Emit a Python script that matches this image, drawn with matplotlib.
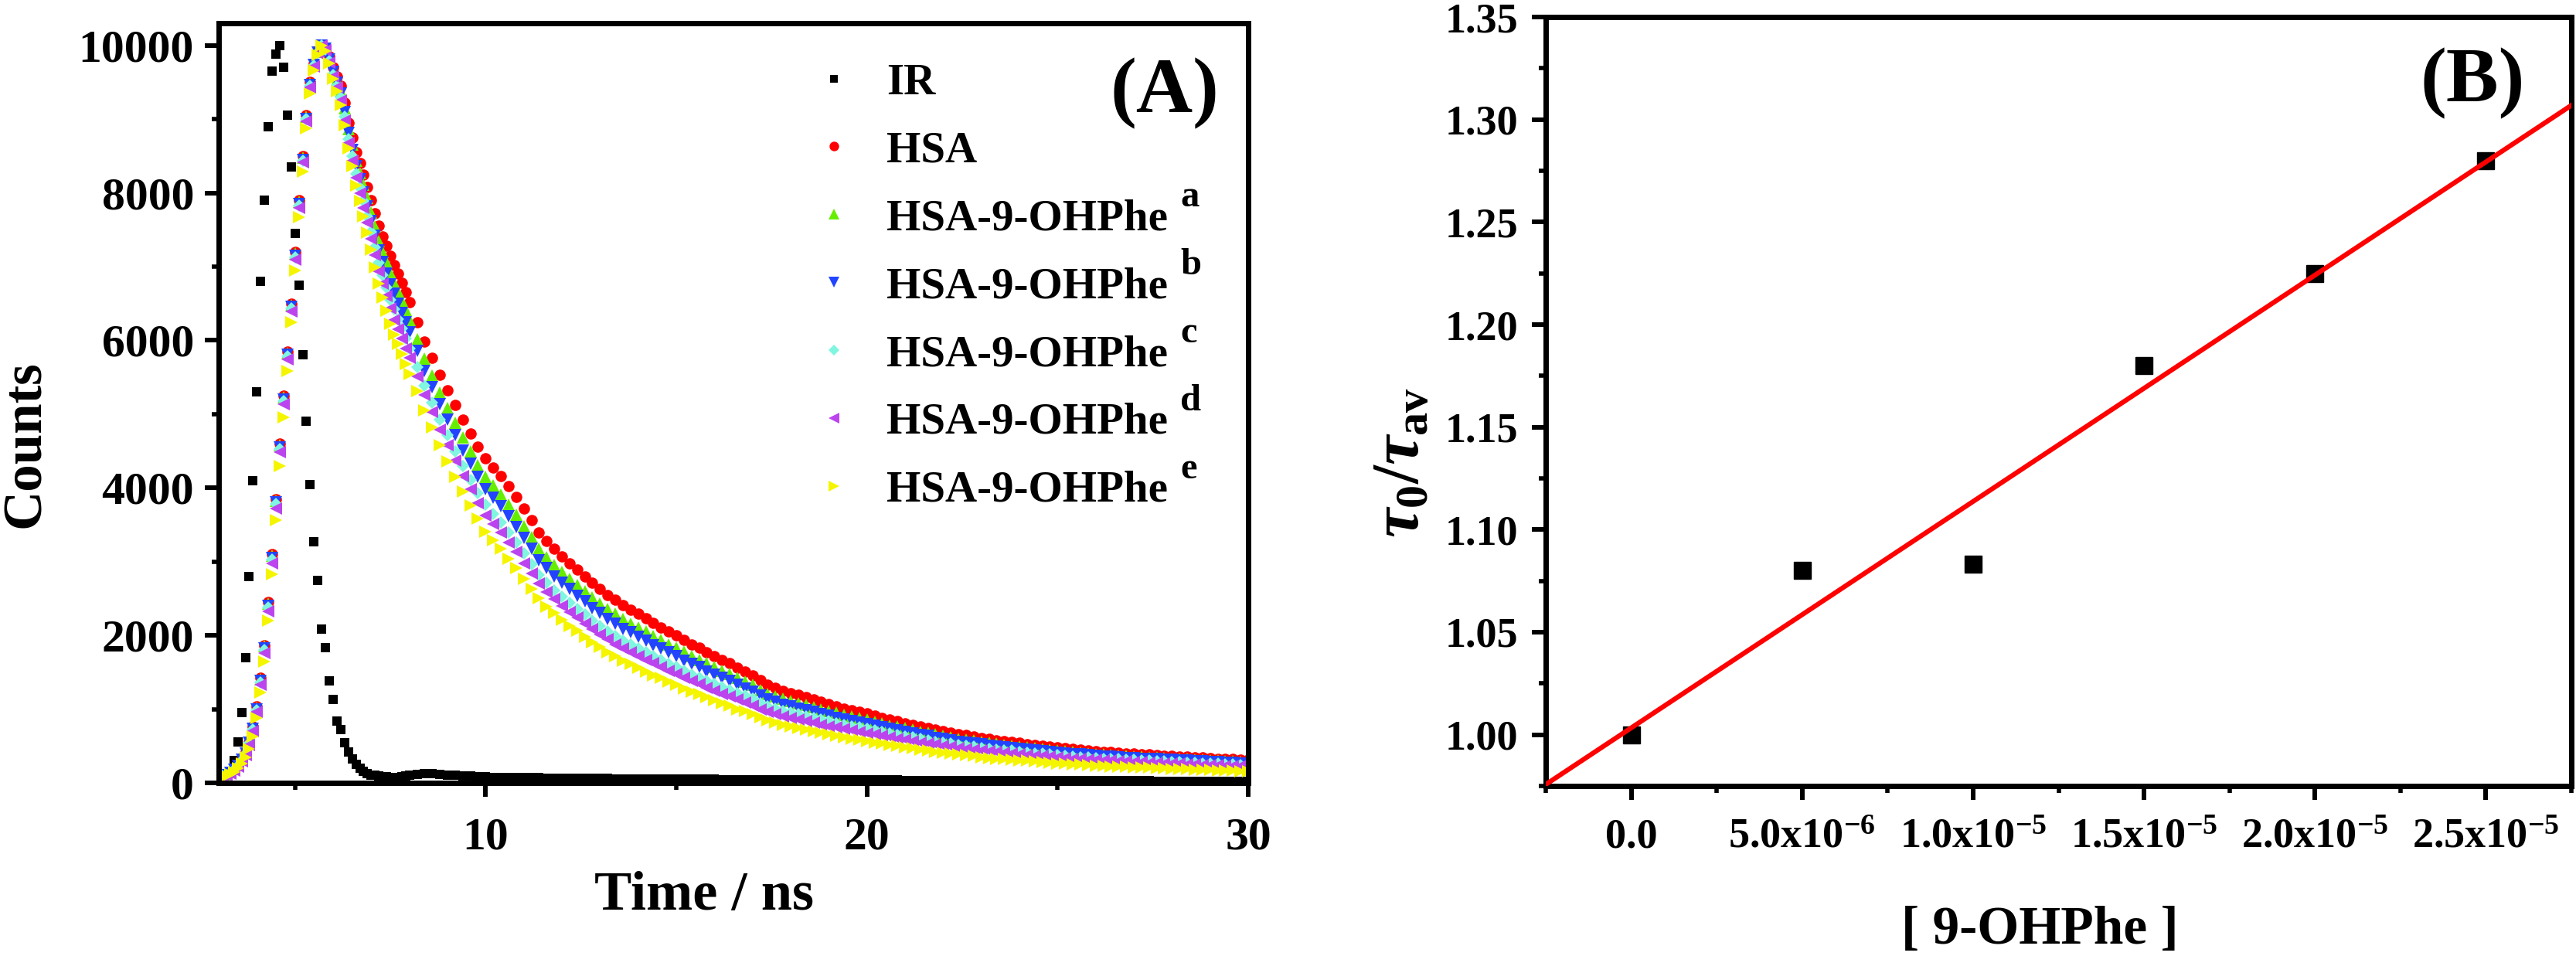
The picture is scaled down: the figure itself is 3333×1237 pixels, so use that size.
import numpy as np
import matplotlib
matplotlib.use("Agg")
import matplotlib.pyplot as plt
from matplotlib.ticker import MultipleLocator, FixedLocator, FormatStrFormatter
from matplotlib.transforms import IdentityTransform
from matplotlib.font_manager import FontProperties

plt.rcParams['font.family'] = ['Liberation Serif', 'DejaVu Serif']
plt.rcParams['font.weight'] = 'bold'
plt.rcParams['mathtext.fontset'] = 'custom'
plt.rcParams['mathtext.rm'] = 'Liberation Serif:bold'
plt.rcParams['mathtext.it'] = 'Liberation Serif:bold:italic'
plt.rcParams['mathtext.bf'] = 'Liberation Serif:bold'

# ---------------- Panel A data (time-resolved decays) ----------------
time_fast = [3.0, 3.1, 3.2, 3.3, 3.4, 3.5, 3.6, 3.7, 3.8, 3.9,
             4.0, 4.1, 4.2, 4.3, 4.4, 4.5, 4.6, 4.7, 4.8, 4.9,
             5.0, 5.1, 5.2, 5.3, 5.4, 5.5, 5.6, 5.7, 5.8, 5.9,
             6.0, 6.1, 6.2, 6.3, 6.4, 6.5, 6.6, 6.7, 6.8, 6.9,
             7.0, 7.1, 7.2, 7.3, 7.4, 7.5, 7.6, 7.7, 7.8, 7.9, 8.0]
time_slow = [8.2, 8.4, 8.6, 8.8, 9.0, 9.2, 9.4, 9.6, 9.8, 10.0,
             10.2, 10.4, 10.6, 10.8, 11.0, 11.2, 11.4, 11.6, 11.8, 12.0,
             12.2, 12.4, 12.6, 12.8, 13.0, 13.2, 13.4, 13.6, 13.8, 14.0,
             14.2, 14.4, 14.6, 14.8, 15.0, 15.2, 15.4, 15.6, 15.8, 16.0,
             16.2, 16.4, 16.6, 16.8, 17.0, 17.2, 17.4, 17.6, 17.8, 18.0,
             18.2, 18.4, 18.6, 18.8, 19.0, 19.2, 19.4, 19.6, 19.8, 20.0,
             20.2, 20.4, 20.6, 20.8, 21.0, 21.2, 21.4, 21.6, 21.8, 22.0,
             22.2, 22.4, 22.6, 22.8, 23.0, 23.2, 23.4, 23.6, 23.8, 24.0,
             24.2, 24.4, 24.6, 24.8, 25.0, 25.2, 25.4, 25.6, 25.8, 26.0,
             26.2, 26.4, 26.6, 26.8, 27.0, 27.2, 27.4, 27.6, 27.8, 28.0,
             28.2, 28.4, 28.6, 28.8, 29.0, 29.2, 29.4, 29.6, 29.8, 30.0]

ir_counts = [20, 40, 80, 150, 300, 560, 950, 1700, 2800, 4100,
             5300, 6800, 7900, 8900, 9650, 9880, 10000, 9700, 9050, 8350,
             7450, 6750, 5800, 4900, 4040, 3270, 2750, 2080, 1830, 1380,
             1130, 840, 720, 540, 420, 320, 250, 200, 160, 130,
             110, 100, 90, 85, 80, 75, 75, 75, 85, 95, 105,
             115, 130, 125, 115, 105, 100, 95, 90, 85, 82,
             78, 76, 75, 74, 72, 70, 70, 68, 66, 65,
             64, 63, 62, 60, 60, 58, 57, 56, 55, 55,
             54, 53, 52, 52, 51, 50, 50, 49, 48, 48,
             47, 47, 46, 46, 45, 45, 44, 44, 43, 43,
             42, 42, 41, 41, 40, 40, 40, 39, 39, 38,
             38, 38, 37, 37, 36, 36, 36, 35, 35, 35,
             34, 34, 34, 33, 33, 33, 32, 32, 32, 31,
             31, 31, 30, 30, 30, 30, 29, 29, 29, 28,
             28, 28, 28, 27, 27, 27, 27, 26, 26, 26,
             26, 25, 25, 25, 25, 24, 24, 24, 24, 23]

hsa_counts = [80, 95, 115, 145, 185, 240, 320, 420, 560, 760,
              1040, 1420, 1860, 2450, 3100, 3850, 4600, 5250, 5850, 6500,
              7200, 7900, 8500, 9050, 9500, 9750, 9920, 10000, 9970, 9850,
              9700, 9580, 9450, 9220, 8950, 8750, 8550, 8400, 8250, 8080,
              7900, 7720, 7550, 7410, 7280, 7150, 7020, 6900, 6780, 6650, 6520,
              6250, 5980, 5760, 5530, 5320, 5120, 4920, 4740, 4560, 4400,
              4280, 4160, 4020, 3880, 3720, 3560, 3400, 3280, 3170, 3070,
              2980, 2890, 2800, 2710, 2630, 2550, 2480, 2410, 2350, 2290,
              2230, 2170, 2110, 2050, 2000, 1940, 1880, 1830, 1770, 1720,
              1670, 1620, 1560, 1510, 1460, 1390, 1330, 1290, 1250, 1220,
              1190, 1160, 1130, 1100, 1070, 1040, 1010, 990, 965, 940,
              915, 885, 860, 835, 810, 790, 765, 745, 720, 700,
              680, 660, 645, 630, 610, 595, 580, 565, 555, 540,
              528, 516, 504, 492, 480, 470, 460, 450, 440, 430,
              423, 416, 409, 402, 395, 389, 383, 377, 371, 365,
              359, 353, 347, 341, 335, 330, 325, 320, 315, 310]

ohphe_a_counts = [85, 100, 120, 150, 190, 245, 325, 420, 560, 750,
                  1020, 1400, 1850, 2430, 3080, 3820, 4580, 5230, 5830, 6480,
                  7180, 7880, 8480, 9030, 9480, 9740, 9910, 10000, 9960, 9830,
                  9660, 9530, 9380, 9150, 8860, 8650, 8440, 8270, 8110, 7930,
                  7730, 7540, 7350, 7200, 7060, 6920, 6780, 6660, 6540, 6410, 6280,
                  6010, 5750, 5520, 5290, 5080, 4880, 4680, 4490, 4310, 4150,
                  4030, 3910, 3770, 3640, 3480, 3330, 3180, 3060, 2950, 2860,
                  2770, 2680, 2600, 2510, 2430, 2360, 2290, 2220, 2160, 2110,
                  2050, 1990, 1940, 1880, 1830, 1780, 1720, 1670, 1620, 1570,
                  1520, 1480, 1420, 1370, 1330, 1260, 1210, 1170, 1140, 1110,
                  1080, 1060, 1030, 1000, 970, 950, 920, 900, 880, 855,
                  830, 805, 780, 760, 740, 720, 695, 680, 655, 635,
                  620, 600, 585, 575, 555, 540, 530, 515, 505, 490,
                  480, 470, 460, 450, 435, 430, 420, 410, 400, 390,
                  385, 380, 370, 365, 360, 355, 350, 345, 340, 330,
                  325, 320, 315, 310, 305, 300, 295, 290, 285, 280]

ohphe_b_counts = [80, 95, 110, 140, 180, 235, 310, 400, 540, 730,
                  1000, 1380, 1820, 2400, 3050, 3800, 4550, 5200, 5800, 6450,
                  7150, 7850, 8450, 9000, 9460, 9730, 9900, 10000, 9950, 9810,
                  9640, 9490, 9350, 9090, 8810, 8580, 8360, 8180, 8010, 7820,
                  7620, 7420, 7220, 7060, 6910, 6760, 6630, 6500, 6370, 6240, 6110,
                  5860, 5590, 5370, 5130, 4920, 4710, 4510, 4330, 4150, 3980,
                  3870, 3750, 3610, 3470, 3320, 3170, 3020, 2910, 2800, 2710,
                  2630, 2540, 2460, 2370, 2300, 2220, 2160, 2090, 2040, 1980,
                  1930, 1870, 1820, 1770, 1720, 1660, 1610, 1570, 1510, 1470,
                  1420, 1380, 1330, 1280, 1240, 1180, 1130, 1100, 1060, 1040,
                  1010, 990, 960, 935, 910, 885, 860, 840, 820, 800,
                  780, 750, 730, 710, 690, 670, 650, 635, 610, 595,
                  580, 560, 550, 535, 520, 505, 495, 480, 470, 460,
                  450, 440, 430, 420, 410, 400, 390, 385, 375, 365,
                  360, 355, 350, 340, 335, 330, 325, 320, 315, 310,
                  305, 300, 295, 290, 285, 280, 275, 270, 265, 262]

ohphe_c_counts = [80, 95, 110, 140, 180, 230, 305, 400, 530, 720,
                  990, 1360, 1800, 2380, 3030, 3780, 4530, 5180, 5780, 6430,
                  7130, 7830, 8440, 9000, 9450, 9720, 9900, 10000, 9940, 9790,
                  9600, 9450, 9290, 9030, 8730, 8500, 8260, 8070, 7890, 7680,
                  7470, 7260, 7050, 6880, 6720, 6550, 6420, 6290, 6160, 6030, 5890,
                  5640, 5390, 5160, 4920, 4710, 4500, 4300, 4110, 3930, 3770,
                  3650, 3530, 3400, 3260, 3110, 2970, 2820, 2710, 2610, 2520,
                  2440, 2360, 2280, 2200, 2130, 2050, 1990, 1930, 1880, 1820,
                  1770, 1720, 1670, 1610, 1570, 1520, 1470, 1430, 1380, 1340,
                  1300, 1260, 1220, 1180, 1140, 1080, 1040, 1010, 975, 950,
                  930, 905, 880, 860, 835, 810, 790, 770, 755, 735,
                  715, 690, 670, 650, 630, 615, 595, 580, 560, 545,
                  530, 515, 505, 490, 475, 465, 450, 440, 435, 420,
                  410, 400, 395, 385, 375, 365, 360, 350, 345, 335,
                  330, 325, 320, 315, 310, 305, 300, 295, 290, 285,
                  280, 275, 270, 265, 260, 258, 254, 250, 246, 242]

ohphe_d_counts = [75, 90, 105, 130, 170, 220, 290, 380, 510, 700,
                  960, 1330, 1760, 2330, 2980, 3720, 4480, 5130, 5740, 6390,
                  7090, 7800, 8410, 8970, 9430, 9710, 9890, 10000, 9930, 9770,
                  9580, 9430, 9250, 8980, 8680, 8440, 8200, 8000, 7800, 7600,
                  7380, 7160, 6940, 6770, 6600, 6430, 6280, 6150, 6030, 5890, 5760,
                  5510, 5260, 5030, 4790, 4580, 4370, 4160, 3980, 3790, 3630,
                  3510, 3390, 3260, 3130, 2980, 2840, 2700, 2590, 2490, 2400,
                  2320, 2240, 2160, 2080, 2010, 1950, 1880, 1820, 1770, 1720,
                  1670, 1620, 1570, 1520, 1480, 1430, 1380, 1340, 1290, 1250,
                  1210, 1170, 1130, 1090, 1050, 1000, 960, 930, 900, 880,
                  855, 835, 815, 790, 770, 750, 730, 715, 695, 675,
                  660, 640, 620, 600, 585, 570, 550, 535, 520, 505,
                  490, 475, 465, 455, 440, 430, 420, 405, 400, 390,
                  380, 370, 365, 355, 345, 340, 330, 325, 317, 310,
                  305, 300, 295, 290, 285, 280, 275, 270, 267, 263,
                  258, 254, 250, 246, 241, 238, 234, 230, 227, 223]

ohphe_e_counts = [70, 80, 95, 115, 150, 195, 260, 345, 460, 630,
                  880, 1230, 1650, 2200, 2830, 3560, 4300, 4960, 5590, 6250,
                  6950, 7670, 8290, 8870, 9350, 9660, 9870, 10000, 9920, 9750,
                  9550, 9380, 9190, 8920, 8600, 8360, 8100, 7890, 7680, 7460,
                  7230, 6990, 6770, 6580, 6400, 6220, 6080, 5950, 5820, 5680, 5540,
                  5310, 5050, 4820, 4580, 4360, 4150, 3950, 3760, 3580, 3410,
                  3290, 3170, 3040, 2910, 2770, 2630, 2500, 2390, 2300, 2210,
                  2130, 2060, 1980, 1910, 1840, 1770, 1720, 1660, 1610, 1560,
                  1510, 1460, 1420, 1370, 1330, 1280, 1240, 1200, 1160, 1120,
                  1080, 1050, 1000, 970, 930, 890, 845, 815, 790, 770,
                  745, 720, 700, 680, 660, 640, 620, 600, 590, 570,
                  550, 530, 515, 500, 480, 470, 450, 440, 420, 410,
                  400, 385, 375, 365, 350, 340, 330, 325, 315, 305,
                  300, 290, 285, 275, 265, 260, 255, 250, 240, 235,
                  230, 225, 220, 215, 210, 209, 205, 200, 195, 190,
                  188, 185, 180, 178, 175, 170, 168, 165, 160, 158]

series_labels = ['IR', 'HSA', 'HSA-9-OHPhe', 'HSA-9-OHPhe', 'HSA-9-OHPhe',
                 'HSA-9-OHPhe', 'HSA-9-OHPhe']
series_superscripts = ['', '', 'a', 'b', 'c', 'd', 'e']

# ---------------- Panel B data (Stern-Volmer) ----------------
ohphe_conc = [0.0, 5.0e-6, 1.0e-5, 1.5e-5, 2.0e-5, 2.5e-5]
tau_ratio = [1.000, 1.080, 1.083, 1.180, 1.225, 1.280]
conc_ticks = [0.0, 5.0e-6, 1.0e-5, 1.5e-5, 2.0e-5, 2.5e-5]
conc_tick_labels = ['0.0', r'5.0x10$^{-6}$', r'1.0x10$^{-5}$', r'1.5x10$^{-5}$',
                    r'2.0x10$^{-5}$', r'2.5x10$^{-5}$']

# ---------------- styles ----------------
styles = [
    dict(marker='s', color='#000000', ms=9),
    dict(marker='o', color='#FF0000', ms=10.5),
    dict(marker='^', color='#66EE00', ms=12),
    dict(marker='v', color='#2244FF', ms=12),
    dict(marker='D', color='#80F5E0', ms=8),
    dict(marker='<', color='#BB44EE', ms=12),
    dict(marker='>', color='#F5F500', ms=12),
]

W, H, DPI = 3333, 1237, 100
fig = plt.figure(figsize=(W / DPI, H / DPI), dpi=DPI)

def frac(x0, x1, ytop, ybot):
    return [x0 / W, 1 - ybot / H, (x1 - x0) / W, (ybot - ytop) / H]

axA = fig.add_axes(frac(283, 1615, 30, 1013))
axB = fig.add_axes(frac(2000, 3327, 22, 1017))

times = time_fast + time_slow
data = [ir_counts, hsa_counts, ohphe_a_counts, ohphe_b_counts,
        ohphe_c_counts, ohphe_d_counts, ohphe_e_counts]
for vals, st, lab in zip(data, styles, series_labels):
    axA.plot(times, vals, linestyle='none', marker=st['marker'], ms=st['ms'],
             color=st['color'], markeredgewidth=0, label=lab)

axA.set_xlim(3, 30)
axA.set_ylim(0, 10300)
axA.xaxis.set_major_locator(FixedLocator([10, 20, 30]))
axA.xaxis.set_minor_locator(FixedLocator([5, 15, 25]))
axA.yaxis.set_major_locator(MultipleLocator(2000))
axA.yaxis.set_minor_locator(MultipleLocator(1000))

for ax, fs, padx, pady in [(axA, 43, 19, 10), (axB, 39, 17, 13)]:
    for s in ax.spines.values():
        s.set_linewidth(5)
    ax.tick_params(which='major', direction='out', length=13, width=4.3,
                   labelsize=fs, top=False, right=False)
    ax.tick_params(which='minor', direction='out', length=6.5, width=4.0,
                   top=False, right=False)
    ax.tick_params(axis='x', which='major', pad=padx)
    ax.tick_params(axis='y', which='major', pad=pady)

axA.set_xlabel('Time / ns', fontsize=52, fontweight='bold')
axA.xaxis.set_label_coords(0.4715, -0.116)
axA.set_ylabel('Counts', fontsize=51, fontweight='bold')
axA.yaxis.set_label_coords(-0.163, 0.446)

leg_fs = 41
leg = axA.legend(loc='upper left', bbox_to_anchor=(0.576, 0.9476), frameon=False,
                 fontsize=leg_fs, handlelength=1.0, handletextpad=0.7,
                 labelspacing=0.63, borderpad=0, markerscale=0.85,
                 borderaxespad=0)
axA.text(0.919, 0.908, '(A)', transform=axA.transAxes, fontsize=73,
         fontweight='bold', ha='center', va='center')

# Panel B
axB.plot(ohphe_conc, tau_ratio, linestyle='none', marker='s', ms=15.5,
         color='black', zorder=2)
xl = (-2.5e-6, 2.75e-5)
coef = np.polyfit(ohphe_conc, tau_ratio, 1)
xfit = np.array(xl)
axB.plot(xfit, np.polyval(coef, xfit), color='#FF0000', lw=4.5, zorder=3)
axB.set_xlim(*xl)
axB.set_ylim(0.975, 1.35)
axB.xaxis.set_major_locator(FixedLocator(conc_ticks))
axB.set_xticklabels(conc_tick_labels)
axB.xaxis.set_minor_locator(FixedLocator([-2.5e-6, 2.5e-6, 7.5e-6, 1.25e-5,
                                          1.75e-5, 2.25e-5, 2.75e-5]))
axB.yaxis.set_major_locator(MultipleLocator(0.05))
axB.yaxis.set_minor_locator(MultipleLocator(0.025))
axB.yaxis.set_major_formatter(FormatStrFormatter('%.2f'))
axB.set_xlabel('[ 9-OHPhe ]', fontsize=50, fontweight='bold')
axB.xaxis.set_label_coords(0.4815, -0.156)
axB.set_ylabel(r'$\tau_{0}/\tau_{\mathrm{av}}$', fontsize=62)
axB.yaxis.set_label_coords(-0.11, 0.42)
axB.text(0.904, 0.9136, '(B)', transform=axB.transAxes, fontsize=73,
         fontweight='bold', ha='center', va='center')

# superscripts of the legend entries, placed after the legend text
fig.canvas.draw()
rend = fig.canvas.get_renderer()
_, _, lp_descent = rend.get_text_width_height_descent(
    'lp', FontProperties(family=['Liberation Serif'], weight='bold', size=leg_fs),
    ismath=False)
for txt, sup in zip(leg.get_texts(), series_superscripts):
    if not sup:
        continue
    e = txt.get_window_extent(rend)
    baseline = e.y0 + lp_descent
    fig.text(e.x1 + 16, baseline + 30, sup, transform=IdentityTransform(),
             fontsize=35, fontweight='bold', ha='left', va='baseline')

fig.savefig('out.png', dpi=DPI)
